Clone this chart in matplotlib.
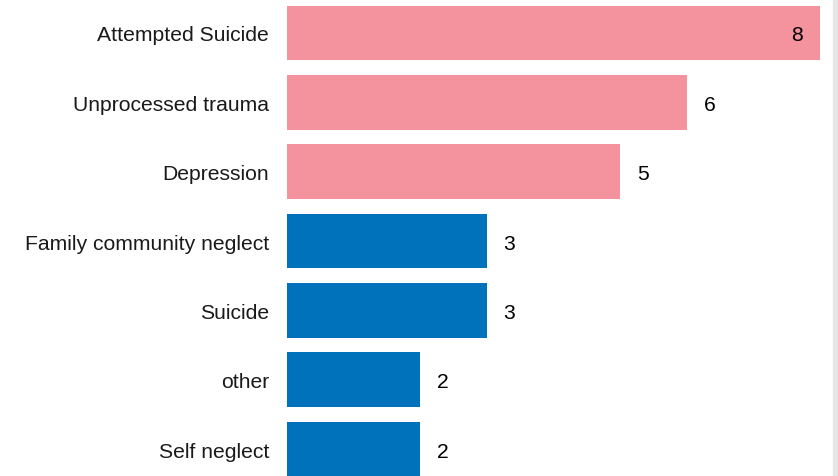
import matplotlib.pyplot as plt
from matplotlib.patches import Rectangle

categories = ['Attempted Suicide', 'Unprocessed trauma', 'Depression',
              'Family community neglect', 'Suicide', 'other', 'Self neglect']
values = [8, 6, 5, 3, 3, 2, 2]
colors = ['#F4929E', '#F4929E', '#F4929E', '#0072BC', '#0072BC', '#0072BC', '#0072BC']

plt.rcParams['font.family'] = ['Liberation Sans', 'DejaVu Sans']

fig = plt.figure(figsize=(8.38, 4.77), dpi=100)
ax = fig.add_axes([287 / 838, 0, (820 - 287) / 838, 1])

y = range(len(categories))
ax.barh(y, values, height=0.79, color=colors)
ax.set_xlim(0, 8)
ax.set_ylim(6.388, -0.49)

ax.set_yticks(list(y))
ax.set_yticklabels(categories, fontsize=15.2, color='#1a1a1a')
ax.tick_params(axis='y', length=0, pad=13)
ax.set_xticks([])
for s in ax.spines.values():
    s.set_visible(False)

for i, v in enumerate(values):
    if v >= 8:
        ax.annotate(str(v), (v, i), xytext=(-12, 0), textcoords='offset points',
                    ha='right', va='center_baseline', fontsize=15.2, color='black')
    else:
        ax.annotate(str(v), (v, i), xytext=(12, 0), textcoords='offset points',
                    ha='left', va='center_baseline', fontsize=15.2, color='black')

fig.patches.append(Rectangle((833 / 838, 0), 5 / 838, 1, transform=fig.transFigure,
                             color='#e6e6e6', zorder=0))

fig.savefig('out.png', dpi=100)
